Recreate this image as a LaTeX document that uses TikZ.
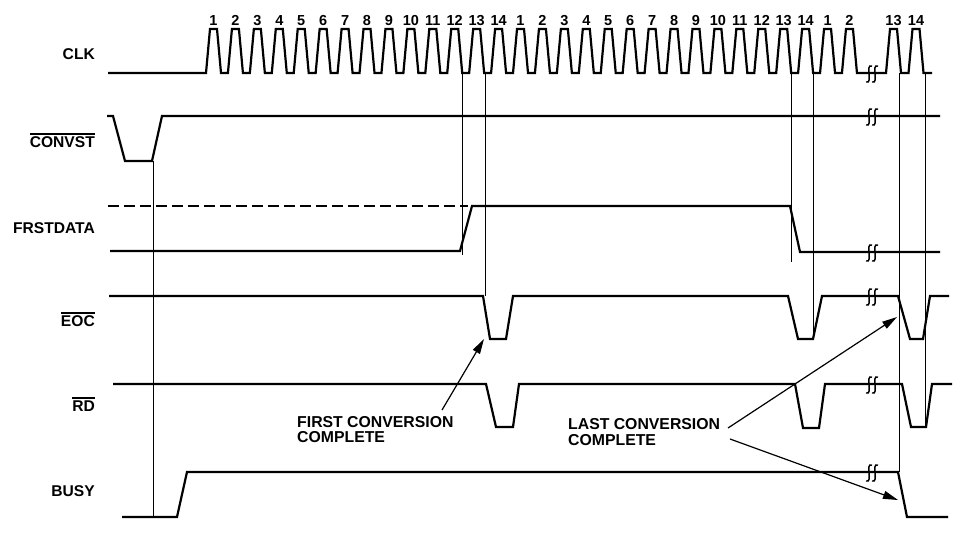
\documentclass[tikz,border=0pt]{standalone}
\usepackage{fontspec}
\setmainfont{Liberation Sans}
\usetikzlibrary{arrows.meta}
\newcommand\barred[1]{\leavevmode\vbox{\hrule height 1.3pt\kern1.6pt\hbox{#1}}}
\tikzset{
  sig/.style={line width=2.2pt, line join=miter},
  vline/.style={line width=1pt},
  lbl/.style={font=\fontsize{15.6}{17}\selectfont\bfseries, inner sep=0pt, anchor=base east},
  num/.style={font=\fontsize{14.5}{16}\selectfont\bfseries, inner sep=0pt, anchor=base},
  ann/.style={font=\fontsize{15.8}{17}\selectfont\bfseries, inner sep=0pt, anchor=base west},
  arr/.style={line width=1.2pt, -{Triangle[length=15pt,width=8pt]}},
  brk/.pic={\foreach \dx in {-3,3} {
      \draw[line width=1.5pt, line cap=round] (\dx+2.5,-8) .. controls (\dx-0.5,-9.5) and (\dx-0.5,-4) .. (\dx,0)
        .. controls (\dx+0.5,4) and (\dx+0.5,9.5) .. (\dx-2.5,8);}}
}
\begin{document}
\begin{tikzpicture}[x=1pt,y=-1pt]
\useasboundingbox (0,0) rectangle (963,533);
% labels
\node[lbl] (lclk) at (95,59) {CLK};
\node[lbl] (lconv) at (95,147) {\barred{CONVST}};
\node[lbl] (lfrst) at (95,233) {FRSTDATA};
\node[lbl] (leoc) at (95,326) {\barred{EOC}};
\node[lbl] (lrd) at (95,411) {\barred{RD}};
\node[lbl] (lbusy) at (95,496) {BUSY};
% clock
\draw[sig] (108,73) foreach \k in {0,...,29} {
   -- ({213.5+21.93*\k-7.5},73) -- ({213.5+21.93*\k-3.5},29)
   -- ({213.5+21.93*\k+3.5},29) -- ({213.5+21.93*\k+7.5},73)}
   foreach \c in {893.5,916} {
   -- (\c-7.5,73) -- (\c-3.5,29) -- (\c+3.5,29) -- (\c+7.5,73)} -- (932,73);
\foreach \k in {0,...,29} {
  \pgfmathtruncatemacro\n{mod(\k,14)+1}
  \node[num] (n\k) at ({213.5+21.93*\k},25) {\n};
}
\node[num] (n30) at (893.5,25) {13};
\node[num] (n31) at (916,25) {14};
% CONVST
\draw[sig] (107,116) -- (113,116) -- (125,161) -- (152,161) -- (162,116) -- (940,116);
% FRSTDATA
\draw[sig, dash pattern=on 11pt off 5pt] (108,206) -- (468,206);
\draw[sig] (110,251) -- (460,251) -- (472,206) -- (790,206) -- (800,252) -- (940,252);
% EOC
\draw[sig] (109,296) -- (483,296) -- (490,339) -- (506,339) -- (513,296) -- (788,296)
  -- (798,339) -- (813,339) -- (822,296) -- (898,296) -- (910,339) -- (923,339)
  -- (930,296) -- (949,296);
% RD
\draw[sig] (113,384) -- (486,384) -- (496,427) -- (513,427) -- (519,384) -- (795,384)
  -- (803,428) -- (819,428) -- (825,384) -- (902,384) -- (911,427) -- (926,427)
  -- (932,384) -- (952,384);
% BUSY
\draw[sig] (122,517) -- (177,517) -- (187,472) -- (898,472) -- (907,517) -- (948,517);
% breaks
\foreach \y in {73,116,252,296,384,472} { \pic at (872,\y+1) {brk}; }
% vertical reference lines
\draw[vline] (153.5,161) -- (153.5,518);
\draw[vline] (462.5,73) -- (462.5,255);
\draw[vline] (485,73) -- (485,296);
\draw[vline] (791,73) -- (791,262);
\draw[vline] (813,73) -- (813,339);
\draw[vline] (899,73) -- (899,472);
\draw[vline] (925,73) -- (925,427);
% annotations
\node[ann] (fc1) at (297,427) {FIRST CONVERSION};
\node[ann] (fc2) at (297,442) {COMPLETE};
\node[ann] (lc1) at (568,429) {LAST CONVERSION};
\node[ann] (lc2) at (568,445) {COMPLETE};
\coordinate (fcs) at (442,410);
\coordinate (fct) at (484,339);
\coordinate (lcs1) at (728,428);
\coordinate (lct1) at (897,317);
\coordinate (lcs2) at (730,439);
\coordinate (lct2) at (898,500);
\draw[arr] (fcs) -- (fct);
\draw[arr] (lcs1) -- (lct1);
\draw[arr] (lcs2) -- (lct2);
\end{tikzpicture}
\end{document}
